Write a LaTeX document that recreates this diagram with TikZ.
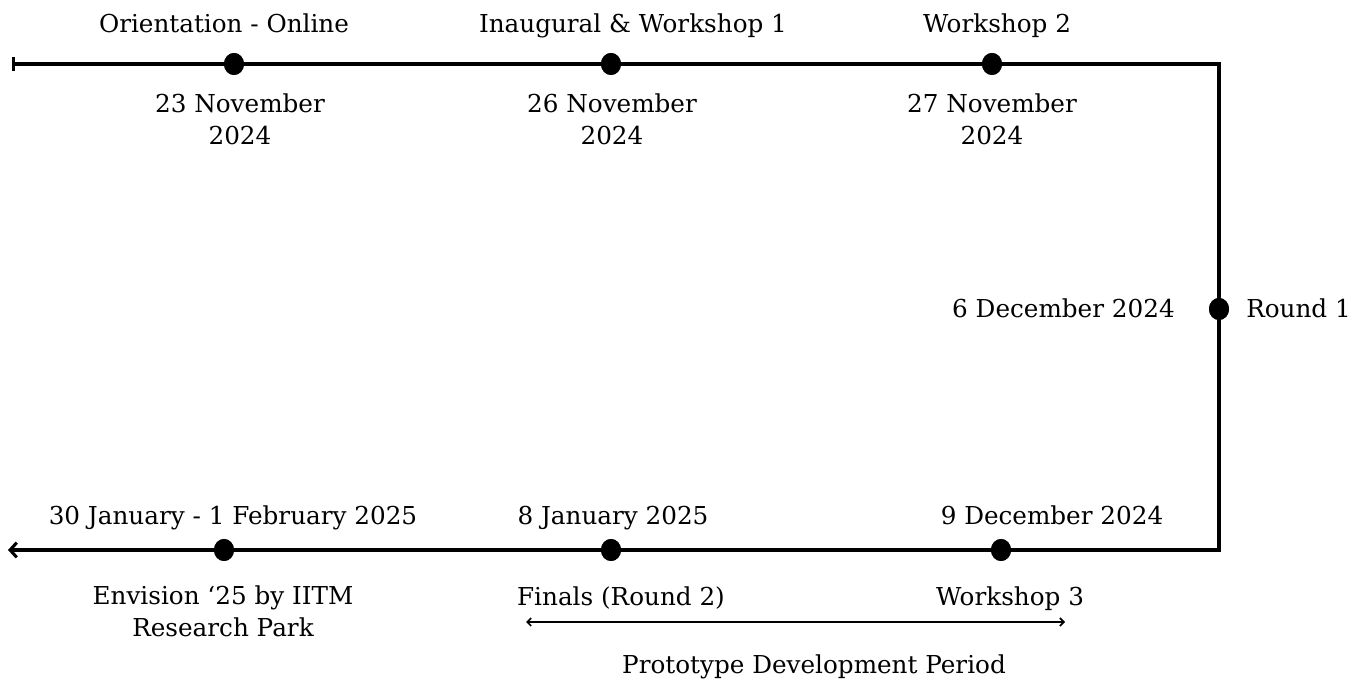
\documentclass[tikz,border=0pt]{standalone}
\usepackage{fontspec}
\setmainfont{DejaVu Serif}
\usetikzlibrary{arrows.meta,shapes.geometric}
\begin{document}
\begin{tikzpicture}[x=0.75pt,y=-0.75pt,
  tl/.style={line width=2.3pt,line join=miter},
  dot/.style={ellipse,fill=black,inner sep=0pt,minimum width=15pt,minimum height=16.5pt},
  lbl/.style={font=\fontsize{18.5}{24.5}\selectfont,inner sep=0pt,align=center,anchor=base}]
\useasboundingbox (0,0) rectangle (1365,691);
% dots
\node[dot] (d1) at (234,64) {};
\node[dot] (d2) at (611,64) {};
\node[dot] (d3) at (992,64) {};
\node[dot] (d4) at (1219,309) {};
\node[dot] (d5) at (1001,550) {};
\node[dot] (d6) at (611,550) {};
\node[dot] (d7) at (224,550) {};
\coordinate (s) at (12,64);
\coordinate (c1) at (1219,64);
\coordinate (c2) at (1219,550);
\coordinate (e) at (8,550);
\draw[tl,{Bar[width=11pt]}-{Straight Barb[length=5pt,width=11pt]}]
  (s) -- (d1.center) -- (d2.center) -- (d3.center) -- (c1) -- (d4.center) -- (c2)
  -- (d5.center) -- (d6.center) -- (d7.center) -- (e);
\foreach \d in {d1,d2,d3,d4,d5,d6,d7} \node[dot] at (\d) {};
% top labels
\node[lbl] (t1) at (224,33) {Orientation - Online};
\node[lbl] (t2) at (633,33) {Inaugural \& Workshop 1};
\node[lbl] (t3) at (997,33) {Workshop 2};
\node[lbl] (b1) at (240,145) {23 November\\2024};
\node[lbl] (b2) at (612,145) {26 November\\2024};
\node[lbl] (b3) at (992,145) {27 November\\2024};
% right
\node[lbl,anchor=base east] (r1) at (1175,318) {6 December 2024};
\node[lbl,anchor=base west] (r2) at (1246,318) {Round 1};
% bottom labels
\node[lbl] (t7) at (233,525) {30 January - 1 February 2025};
\node[lbl] (t6) at (613,525) {8 January 2025};
\node[lbl] (t5) at (1052,525) {9 December 2024};
\node[lbl] (b7) at (223,637) {Envision ‘25 by IITM\\Research Park};
\node[lbl] (b6) at (621,606) {Finals (Round 2)};
\node[lbl] (b5) at (1010,606) {Workshop 3};
% prototype period
\coordinate (p1) at (526,622);
\coordinate (p2) at (1065,622);
\draw[line width=1.2pt,{Straight Barb[length=3pt,width=6pt]}-{Straight Barb[length=3pt,width=6pt]}] (p1) -- (p2);
\node[lbl] (pp) at (814,673) {Prototype Development Period};
\end{tikzpicture}
\end{document}
